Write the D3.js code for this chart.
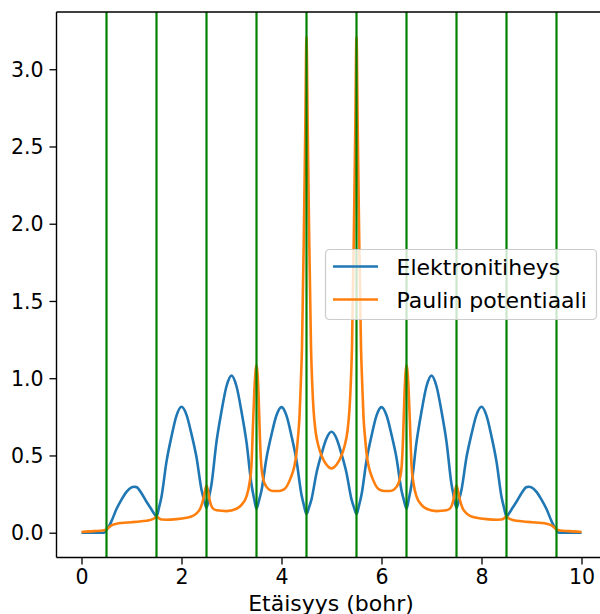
<!DOCTYPE html>
<html>
<head>
<meta charset="utf-8">
<script src="https://cdn.jsdelivr.net/npm/d3@7"></script>
<style>
  html, body { margin: 0; padding: 0; background: #fff; }
  svg { display: block; }
  text { font-family: "DejaVu Sans", sans-serif; }
</style>
</head>
<body>
<svg id="chart" width="600" height="614"></svg>
<script>
// ---- Data ----
const densityX = [0, 0.45, 0.5, 0.55, 0.6, 0.7, 0.8, 0.9, 1.0, 1.05, 1.1, 1.2, 1.3, 1.4, 1.45, 1.5,
  1.55, 1.6, 1.7, 1.8, 1.9, 2.0, 2.1, 2.2, 2.3, 2.4, 2.45, 2.5,
  2.55, 2.6, 2.7, 2.8, 2.9, 3.0, 3.1, 3.2, 3.3, 3.4, 3.45, 3.5,
  3.55, 3.6, 3.7, 3.8, 3.9, 4.0, 4.1, 4.2, 4.3, 4.4, 4.45, 4.5,
  4.55, 4.6, 4.7, 4.8, 4.9, 5.0, 5.1, 5.2, 5.3, 5.4, 5.45, 5.5,
  5.55, 5.6, 5.7, 5.8, 5.9, 6.0, 6.1, 6.2, 6.3, 6.4, 6.45, 6.5,
  6.55, 6.6, 6.7, 6.8, 6.9, 7.0, 7.1, 7.2, 7.3, 7.4, 7.45, 7.5,
  7.55, 7.6, 7.7, 7.8, 7.9, 8.0, 8.1, 8.2, 8.3, 8.4, 8.45, 8.5,
  8.55, 8.6, 8.7, 8.8, 8.9, 8.95, 9.0, 9.1, 9.2, 9.3, 9.4, 9.45, 9.5, 9.55, 10];
const densityY = [0, 0, 0.02, 0.042, 0.075, 0.153, 0.214, 0.264, 0.293, 0.297, 0.295, 0.255, 0.20, 0.15, 0.124, 0.105,
  0.162, 0.233, 0.46, 0.623, 0.758, 0.815, 0.763, 0.638, 0.488, 0.278, 0.212, 0.16,
  0.229, 0.314, 0.589, 0.786, 0.948, 1.017, 0.948, 0.784, 0.586, 0.310, 0.224, 0.155,
  0.208, 0.273, 0.484, 0.635, 0.760, 0.813, 0.758, 0.626, 0.467, 0.245, 0.175, 0.12,
  0.163, 0.216, 0.387, 0.509, 0.610, 0.653, 0.610, 0.509, 0.387, 0.216, 0.163, 0.12,
  0.175, 0.245, 0.467, 0.626, 0.758, 0.813, 0.760, 0.635, 0.484, 0.273, 0.208, 0.155,
  0.224, 0.310, 0.586, 0.784, 0.948, 1.017, 0.948, 0.786, 0.589, 0.314, 0.229, 0.16,
  0.212, 0.278, 0.488, 0.638, 0.763, 0.815, 0.758, 0.623, 0.46, 0.233, 0.162, 0.105,
  0.124, 0.15, 0.20, 0.255, 0.295, 0.297, 0.293, 0.264, 0.214, 0.153, 0.075, 0.042, 0.02, 0, 0];

const potentialX = [0, 0.25, 0.45, 0.5, 0.55, 0.6, 0.7, 0.8, 1.0, 1.2, 1.35, 1.45, 1.5, 1.55, 1.6, 1.7, 1.9,
  2.1, 2.2, 2.3, 2.38, 2.43, 2.47, 2.5, 2.53, 2.57, 2.62, 2.7, 2.9, 3.1, 3.2, 3.3,
  3.36, 3.4, 3.43, 3.46, 3.5, 3.54, 3.57, 3.6, 3.66, 3.75, 3.83, 3.95, 4.05, 4.19, 4.25, 4.29,
  4.33, 4.36, 4.385, 4.41, 4.45, 4.475, 4.5, 4.525, 4.55, 4.59, 4.615, 4.64, 4.68, 4.74, 4.8, 4.9,
  5.0,
  5.1, 5.2, 5.26, 5.32, 5.36, 5.385, 5.41, 5.45, 5.475, 5.5, 5.525, 5.55, 5.59, 5.615, 5.64, 5.67,
  5.71, 5.75, 5.81, 5.95, 6.05, 6.17, 6.25, 6.34, 6.4, 6.43, 6.46, 6.5, 6.54, 6.57, 6.6, 6.64,
  6.7, 6.8, 6.9, 7.1, 7.3, 7.38, 7.43, 7.47, 7.5, 7.53, 7.57, 7.62, 7.7, 7.8, 7.9,
  8.1, 8.3, 8.4, 8.45, 8.5, 8.55, 8.65, 8.8, 9.0, 9.2, 9.3, 9.4, 9.45, 9.5, 9.55, 9.75, 10];
const potentialY = [0.005, 0.01, 0.016, 0.02, 0.035, 0.048, 0.058, 0.063, 0.068, 0.074, 0.08, 0.092, 0.105, 0.093, 0.085, 0.084, 0.088,
  0.097, 0.105, 0.125, 0.16, 0.21, 0.27, 0.305, 0.27, 0.2, 0.16, 0.145, 0.14, 0.155, 0.18, 0.235,
  0.32, 0.44, 0.7, 0.94, 1.085, 0.9, 0.6, 0.42, 0.32, 0.28, 0.27, 0.27, 0.28, 0.36, 0.42, 0.49,
  0.62, 0.75, 0.96, 1.2, 2.0, 2.6, 3.21, 2.6, 2.0, 1.2, 0.96, 0.8, 0.66, 0.56, 0.50, 0.44,
  0.416,
  0.44, 0.50, 0.56, 0.66, 0.8, 0.96, 1.2, 2.0, 2.6, 3.21, 2.6, 2.0, 1.2, 0.96, 0.75, 0.62,
  0.49, 0.42, 0.36, 0.28, 0.27, 0.27, 0.28, 0.32, 0.42, 0.6, 0.9, 1.085, 0.94, 0.7, 0.44, 0.32,
  0.235, 0.18, 0.155, 0.14, 0.145, 0.16, 0.2, 0.27, 0.305, 0.27, 0.21, 0.16, 0.125, 0.105, 0.097,
  0.088, 0.084, 0.085, 0.093, 0.105, 0.092, 0.08, 0.074, 0.068, 0.063, 0.058, 0.048, 0.035, 0.02, 0.016, 0.01, 0.005];

const boundaries = [0.5, 1.5, 2.5, 3.5, 4.5, 5.5, 6.5, 7.5, 8.5, 9.5];
const xTicks = [0, 2, 4, 6, 8, 10];
const yTicks = [0.0, 0.5, 1.0, 1.5, 2.0, 2.5, 3.0];
const seriesNames = ["Elektronitiheys", "Paulin potentiaali"];
const seriesColors = ["#1f77b4", "#ff7f0e"];
const xLabel = "Etäisyys (bohr)";

// ---- Layout ----
const svg = d3.select("#chart");
const L = 56.5, R = 606.5, T = 12, B = 557.5;
const x = d3.scaleLinear().domain([-0.5, 10.5]).range([L, R]);
const y = d3.scaleLinear().domain([-0.1605, 3.3705]).range([B, T]);

const line = d3.line().x(d => x(d[0])).y(d => y(d[1])).curve(d3.curveMonotoneX);
const density = densityX.map((v, i) => [v, densityY[i]]);
const potential = potentialX.map((v, i) => [v, potentialY[i]]);

svg.append("defs").append("clipPath").attr("id", "clip")
  .append("rect").attr("x", L).attr("y", T).attr("width", R - L).attr("height", B - T);

const plot = svg.append("g").attr("clip-path", "url(#clip)");
plot.append("path").datum(density).attr("d", line)
  .attr("fill", "none").attr("stroke", seriesColors[0]).attr("stroke-width", 2.6)
  .attr("stroke-linejoin", "round");
plot.append("path").datum(potential).attr("d", line)
  .attr("fill", "none").attr("stroke", seriesColors[1]).attr("stroke-width", 2.6)
  .attr("stroke-linejoin", "round");
plot.selectAll("line.vb").data(boundaries).enter().append("line")
  .attr("class", "vb")
  .attr("x1", d => x(d)).attr("x2", d => x(d))
  .attr("y1", T).attr("y2", B)
  .attr("stroke", "#008000").attr("stroke-width", 2.2);

// ---- Axes ----
const xAxis = d3.axisBottom(x).tickValues(xTicks).tickFormat(d3.format("d"))
  .tickSizeInner(7).tickSizeOuter(0).tickPadding(5);
const yAxis = d3.axisLeft(y).tickValues(yTicks).tickFormat(d3.format(".1f"))
  .tickSizeInner(7).tickSizeOuter(0).tickPadding(6);

const gx = svg.append("g").attr("transform", `translate(0,${B})`).call(xAxis);
const gy = svg.append("g").attr("transform", `translate(${L},0)`).call(yAxis);
[gx, gy].forEach(g => {
  g.select(".domain").remove();
  g.selectAll(".tick line").attr("stroke", "#000").attr("stroke-width", 1.3);
  g.selectAll(".tick text").attr("fill", "#000").style("font-size", "20.5px")
    .style("font-family", "'DejaVu Sans', sans-serif");
});
gy.selectAll(".tick text").attr("dy", "0.35em");

// spines
svg.append("line").attr("x1", L).attr("x2", L).attr("y1", T).attr("y2", B)
  .attr("stroke", "#000").attr("stroke-width", 1.4);
svg.append("line").attr("x1", L).attr("x2", R).attr("y1", T).attr("y2", T)
  .attr("stroke", "#000").attr("stroke-width", 1.4);
svg.append("line").attr("x1", L).attr("x2", R).attr("y1", B).attr("y2", B)
  .attr("stroke", "#000").attr("stroke-width", 1.4);
svg.append("line").attr("x1", R).attr("x2", R).attr("y1", T).attr("y2", B)
  .attr("stroke", "#000").attr("stroke-width", 1.4);

svg.append("text").attr("x", 331).attr("y", 611)
  .attr("text-anchor", "middle").style("font-size", "22px").attr("fill", "#000")
  .text(xLabel);

// ---- Legend ----
const lg = svg.append("g").attr("transform", "translate(325.5,249.5)");
lg.append("rect").attr("width", 271).attr("height", 70).attr("rx", 4).attr("ry", 4)
  .attr("fill", "#fff").attr("fill-opacity", 0.8)
  .attr("stroke", "#cccccc").attr("stroke-width", 1.2);
seriesNames.forEach((name, i) => {
  const yy = 17 + i * 33;
  lg.append("line").attr("x1", 7.5).attr("x2", 52.5).attr("y1", yy).attr("y2", yy)
    .attr("stroke", seriesColors[i]).attr("stroke-width", 2.6);
  lg.append("text").attr("x", 71).attr("y", yy + 8.5)
    .style("font-size", "22px").attr("fill", "#000").text(name);
});
</script>
</body>
</html>
